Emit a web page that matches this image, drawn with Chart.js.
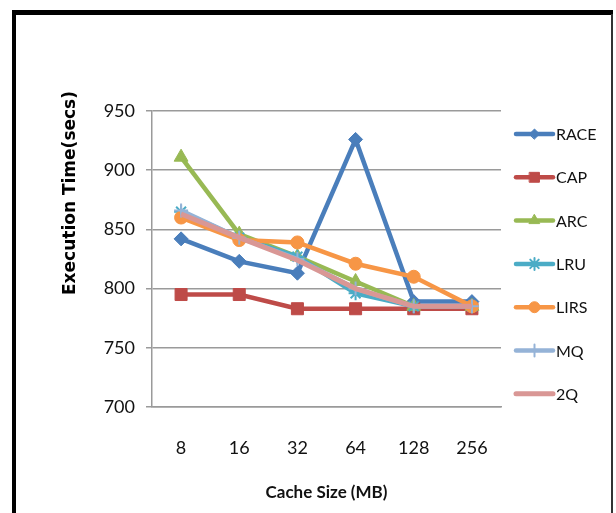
<!DOCTYPE html>
<html>
<head>
<meta charset="utf-8">
<script src="https://cdn.jsdelivr.net/npm/chart.js@4/dist/chart.umd.min.js"></script>
<style>
  html, body { margin: 0; padding: 0; background: #ffffff; }
  #wrap { width: 616px; height: 513px; position: relative; }
</style>
</head>
<body>
<div id="wrap"><canvas id="chart" width="616" height="513"></canvas></div>
<script>
// Cache sizes (MB) on the x axis
const cacheSizes = ['8', '16', '32', '64', '128', '256'];

// Execution time in seconds for each replacement policy
const raceTimes = [842, 823, 813, 926, 789, 789];
const capTimes  = [795, 795, 783, 783, 783, 783];
const arcTimes  = [911, 846, 827, 806, 785, 785];
const lruTimes  = [865, 843, 827, 796, 785, 785];
const lirsTimes = [860, 841, 839, 821, 810, 785];
const mqTimes   = [866, 843, 825, 800, 785, 785];
const twoQTimes = [863, 843, 824, 800, 785, 785];

// Y axis range and tick spacing
const yMin = 700;
const yMax = 950;
const yStep = 50;

const seriesNames = ['RACE', 'CAP', 'ARC', 'LRU', 'LIRS', 'MQ', '2Q'];
const seriesValues = [raceTimes, capTimes, arcTimes, lruTimes, lirsTimes, mqTimes, twoQTimes];

const textFont = 'Lato, sans-serif';

const seriesStyle = [
  { color: '#4A7EBB', point: 'rectRot',  r: 7,   legendR: 5,   bw: 1 },
  { color: '#BE4B48', point: 'rect',     r: 8.5, legendR: 7,   bw: 1 },
  { color: '#98B954', point: 'triangle', r: 8,   legendR: 6,   bw: 1 },
  { color: '#4BACC6', point: 'star',     r: 7,   legendR: 6,   bw: 2 },
  { color: '#F79646', point: 'circle',   r: 6.5, legendR: 5.5, bw: 1 },
  { color: '#95B3D7', point: 'cross',    r: 7,   legendR: 6,   bw: 2 },
  { color: '#D99795', point: false,      r: 0,   legendR: 0,   bw: 0 }
];

const datasets = seriesNames.map((name, i) => {
  const s = seriesStyle[i];
  return {
    label: name,
    data: seriesValues[i],
    borderColor: s.color,
    backgroundColor: s.color,
    borderWidth: i === 6 ? 5 : 4.5,
    pointStyle: s.point,
    pointRadius: s.r,
    pointHoverRadius: s.r,
    pointBorderWidth: s.bw,
    pointBorderColor: s.color,
    pointBackgroundColor: s.color,
    tension: 0,
    // later series are painted above earlier ones
    order: seriesNames.length - i
  };
});

// Frame, rotated y title and legend with line + marker samples
const decorations = {
  id: 'decorations',
  beforeDraw(chart) {
    const ctx = chart.ctx;
    ctx.save();
    ctx.fillStyle = '#ffffff';
    ctx.fillRect(0, 0, chart.width, chart.height);
    ctx.restore();
  },
  afterDraw(chart) {
    const ctx = chart.ctx;
    const area = chart.chartArea;
    ctx.save();

    // outer frame
    ctx.fillStyle = '#000000';
    ctx.fillRect(12, 10, 601, 5);
    ctx.fillRect(12, 10, 4, chart.height - 10);
    ctx.fillStyle = '#333333';
    ctx.fillRect(611, 14, 2, chart.height - 14);

    // y axis title
    ctx.save();
    ctx.translate(71, 193);
    ctx.rotate(-Math.PI / 2);
    ctx.fillStyle = '#000000';
    ctx.font = 'bold 17px "DejaVu Sans"';
    ctx.textAlign = 'center';
    ctx.textBaseline = 'middle';
    ctx.fillText('Execution Time(secs)', 0, 0);
    ctx.restore();

    // legend
    const lx0 = area.right + 15;
    const lx1 = area.right + 52;
    const ly0 = area.top + 23;
    const dy = 43.3;
    chart.data.datasets.forEach((ds, i) => {
      const y = ly0 + i * dy;
      ctx.strokeStyle = ds.borderColor;
      ctx.lineWidth = ds.borderWidth;
      ctx.lineCap = 'round';
      ctx.beginPath();
      ctx.moveTo(lx0, y);
      ctx.lineTo(lx1, y);
      ctx.stroke();
      const st = seriesStyle[i];
      if (st.point) {
        ctx.fillStyle = ds.backgroundColor;
        ctx.strokeStyle = ds.borderColor;
        ctx.lineWidth = st.bw;
        Chart.helpers.drawPoint(ctx, { pointStyle: st.point, radius: st.legendR, rotation: 0, borderWidth: st.bw }, (lx0 + lx1) / 2, y);
      }
      ctx.fillStyle = '#111111';
      ctx.font = '16px ' + textFont;
      ctx.textAlign = 'left';
      ctx.textBaseline = 'middle';
      ctx.fillText(ds.label, lx1 + 3, y + 1);
    });

    ctx.restore();
  }
};

new Chart(document.getElementById('chart'), {
  type: 'line',
  data: { labels: cacheSizes, datasets },
  plugins: [decorations],
  options: {
    responsive: false,
    animation: false,
    layout: { padding: { top: 111, right: 115, bottom: 0, left: 0 } },
    plugins: {
      legend: { display: false },
      tooltip: { enabled: false },
      title: { display: false }
    },
    scales: {
      x: {
        type: 'category',
        offset: true,
        grid: { display: false, drawTicks: false },
        border: { display: true, color: '#9a9a9a', width: 1.5 },
        ticks: { color: '#111111', font: { family: textFont, size: 18 }, padding: 30, maxRotation: 0 },
        title: {
          display: true,
          text: 'Cache Size (MB)',
          color: '#111111',
          font: { family: textFont, size: 17, weight: 'bold' },
          padding: { top: 0, bottom: 10 }
        },
        afterFit(scale) { scale.height = 106; }
      },
      y: {
        min: yMin,
        max: yMax,
        grid: { color: '#9a9a9a', lineWidth: 1.5, tickLength: 6, drawTicks: true },
        border: { display: true, color: '#9a9a9a', width: 1.5 },
        ticks: { stepSize: yStep, color: '#111111', font: { family: textFont, size: 18 }, padding: 11 },
        afterFit(scale) { scale.width = 152; }
      }
    }
  }
});
</script>
</body>
</html>
